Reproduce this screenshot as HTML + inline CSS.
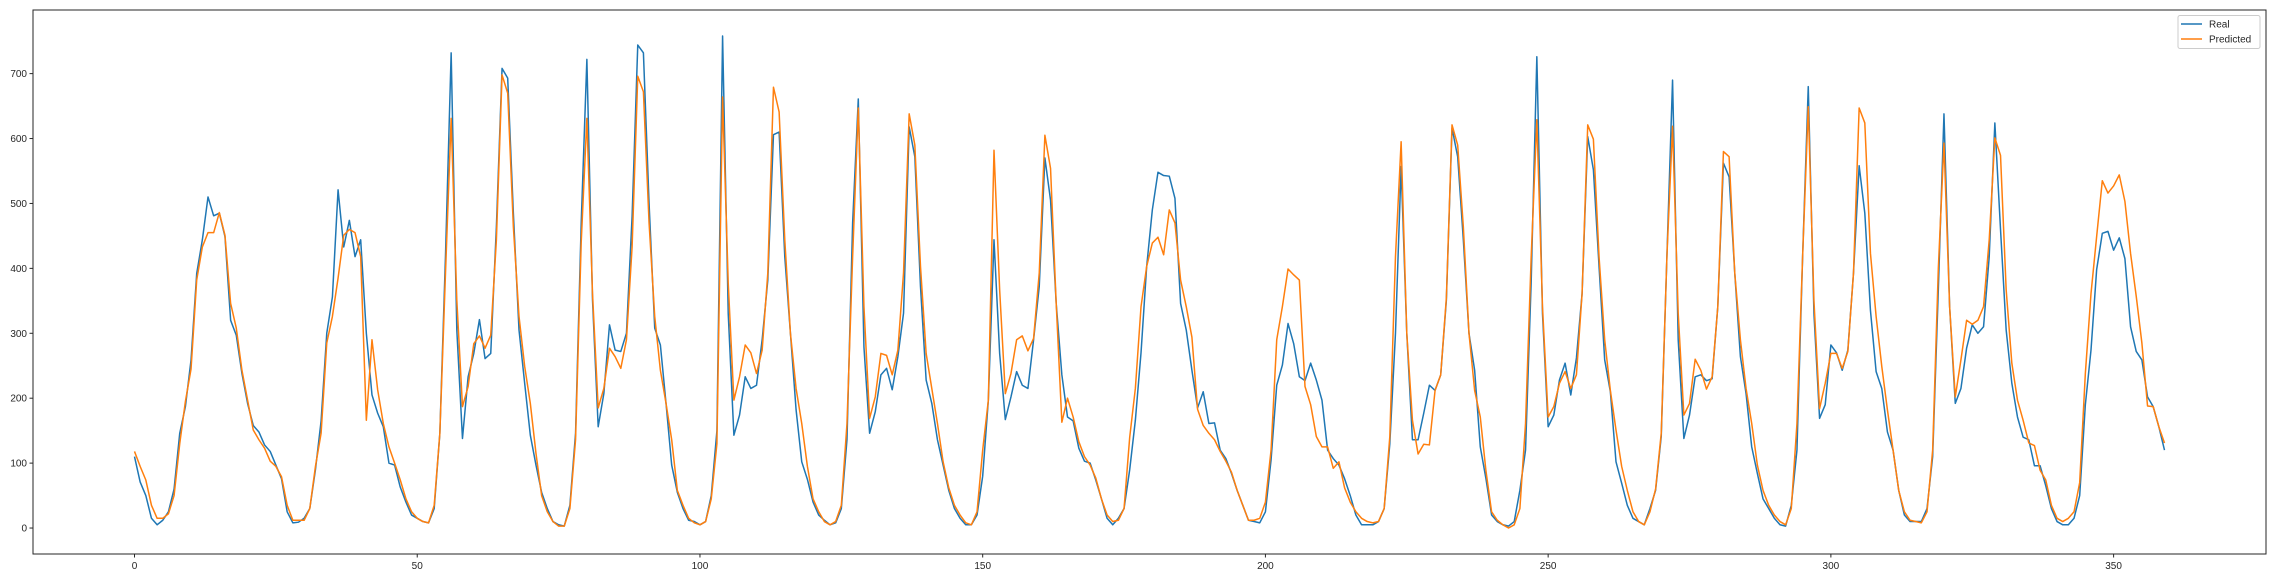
<!DOCTYPE html>
<html><head><meta charset="utf-8">
<style>
html,body{margin:0;padding:0;background:#fff;}
svg{display:block;font-family:"Liberation Sans","DejaVu Sans",sans-serif;}
</style></head>
<body>
<svg id="chart" width="2275" height="578" viewBox="0 0 2275 578" xmlns="http://www.w3.org/2000/svg">
  <rect x="0" y="0" width="2275" height="578" fill="#fff"/>
  <g id="xticks"></g>
  <g id="yticks"></g>
  <g id="series"></g>
  <rect x="33" y="10" width="2233" height="544" fill="none" stroke="#262626" stroke-width="1"/>
  <g>
    <rect x="2178" y="15.5" width="82" height="33" rx="2" fill="#fff" fill-opacity="0.8" stroke="#ccc" stroke-width="1"/>
    <line x1="2181" y1="24" x2="2202" y2="24" stroke="#1f77b4" stroke-width="1.5"/>
    <text x="2209" y="27.5" font-size="10" fill="#262626">Real</text>
    <line x1="2181" y1="39" x2="2202" y2="39" stroke="#ff7f0e" stroke-width="1.5"/>
    <text x="2209" y="42.5" font-size="10" fill="#262626">Predicted</text>
  </g>
</svg>
<script>
const xTickValues = [0, 50, 100, 150, 200, 250, 300, 350];
const yTickValues = [0, 100, 200, 300, 400, 500, 600, 700];
const realValues = [
110,71,50,15,5,12,25,60,146,187,
259,392,444,510,481,485,449,320,297,238,
192,158,148,128,118,97,76,25,8,9,
15,30,90,165,300,356,521,433,474,418,
444,300,205,177,156,100,97,63,40,20,
15,10,8,30,146,420,732,305,138,233,
269,321,261,269,464,708,693,485,305,223,
143,97,55,30,10,5,3,35,146,470,
722,351,156,207,313,274,272,300,480,744,
732,500,308,282,192,97,55,30,12,10,
5,10,50,150,758,330,143,174,233,215,
220,290,382,606,610,418,300,182,102,75,
40,20,12,5,8,30,136,470,661,279,
146,179,236,246,213,264,331,618,572,372,
228,192,136,97,58,30,15,5,5,20,
80,197,444,269,167,202,241,220,215,290,
372,570,505,346,236,171,165,123,103,100,
74,45,15,5,15,30,90,166,270,403,
490,548,543,542,508,346,305,243,185,210,
161,162,120,107,84,58,35,12,10,8,
25,105,220,251,315,284,233,227,254,228,
197,120,107,97,76,50,20,5,5,5,
10,30,130,300,557,300,136,136,177,220,
212,236,351,616,572,444,300,243,125,76,
20,10,5,3,10,58,120,380,726,330,
156,174,228,254,205,262,361,603,552,403,
259,210,102,69,35,15,10,5,30,58,
141,418,690,290,138,174,233,236,227,230,
341,562,541,393,264,207,125,84,45,30,
15,5,3,35,120,418,680,331,169,190,
282,270,243,274,393,558,485,335,241,215,
148,120,58,20,10,10,10,30,110,367,
638,341,192,215,277,313,300,310,418,624,
460,305,223,171,140,136,96,96,65,30,
10,5,5,15,50,190,274,398,454,457,
428,447,415,310,272,259,202,187,156,120
];
const predictedValues = [
118,95,74,35,15,15,22,50,130,195,
245,382,433,455,455,486,451,346,308,243,
197,151,136,123,103,95,79,35,12,12,
12,30,95,146,285,326,385,451,460,455,
418,166,290,213,161,125,100,74,45,25,
15,10,8,35,146,393,631,351,187,218,
284,296,277,297,444,698,670,464,326,249,
192,115,50,25,10,3,3,30,136,440,
631,361,185,215,277,264,246,290,433,696,
672,470,326,243,192,136,58,35,15,8,
5,10,45,130,664,377,197,233,282,270,
238,274,393,679,641,444,300,215,161,95,
45,25,10,5,10,35,161,418,647,341,
169,202,269,266,236,274,393,638,590,403,
269,215,161,102,62,35,20,8,5,25,
120,197,582,367,207,238,290,296,273,292,
393,605,554,346,163,200,171,133,110,97,
77,45,20,10,12,30,140,215,341,403,
439,448,421,490,470,382,341,294,183,158,
146,136,118,103,86,58,35,12,12,15,
40,120,290,341,399,390,382,218,190,141,
125,125,92,102,62,40,25,15,10,8,
10,30,141,418,595,300,166,114,129,128,
212,236,355,621,590,464,300,212,171,88,
25,12,5,0,5,30,161,418,629,341,
171,187,223,241,215,236,361,621,599,418,
290,212,151,95,58,25,10,5,25,60,
146,418,619,331,174,192,260,243,214,233,
341,580,572,393,290,215,161,97,58,35,
20,10,5,30,161,418,649,351,184,223,
269,269,246,272,393,647,624,423,326,249,
182,120,58,25,12,10,8,25,120,400,
593,341,202,259,320,314,320,341,444,601,
574,367,254,197,166,131,127,89,74,35,
15,10,15,25,70,238,361,449,535,516,
527,544,503,423,357,285,188,187,156,131
];

const NS = "http://www.w3.org/2000/svg";
const X0 = 33, X1 = 2266, Y0 = 554, Y1 = 10;
const XMIN = -17.95, XMAX = 376.95, YMIN = -40, YMAX = 798;
function xScale(v){ return X0 + (v - XMIN) / (XMAX - XMIN) * (X1 - X0); }
function yScale(v){ return Y0 - (v - YMIN) / (YMAX - YMIN) * (Y0 - Y1); }

const xg = document.getElementById('xticks');
xTickValues.forEach(function(t){
  const x = xScale(t);
  const ln = document.createElementNS(NS, 'line');
  ln.setAttribute('x1', x); ln.setAttribute('x2', x);
  ln.setAttribute('y1', Y0); ln.setAttribute('y2', Y0 + 3.5);
  ln.setAttribute('stroke', '#262626');
  
  
  xg.appendChild(ln);
  const tx = document.createElementNS(NS, 'text');
  tx.setAttribute('x', x); tx.setAttribute('y', Y0 + 15);
  tx.setAttribute('text-anchor', 'middle');
  tx.setAttribute('font-size', '10');
  tx.setAttribute('fill', '#262626');
  tx.textContent = t;
  
  
  xg.appendChild(tx);
});

const yg = document.getElementById('yticks');
yTickValues.forEach(function(t){
  const y = yScale(t);
  const ln = document.createElementNS(NS, 'line');
  ln.setAttribute('x1', X0 - 3.5); ln.setAttribute('x2', X0);
  ln.setAttribute('y1', y); ln.setAttribute('y2', y);
  ln.setAttribute('stroke', '#262626');
  
  
  yg.appendChild(ln);
  const tx = document.createElementNS(NS, 'text');
  tx.setAttribute('x', X0 - 6); tx.setAttribute('y', y + 3.5);
  tx.setAttribute('text-anchor', 'end');
  tx.setAttribute('font-size', '10');
  tx.setAttribute('fill', '#262626');
  tx.textContent = t;
  
  
  yg.appendChild(tx);
});

function drawSeries(vals, color, name){
  let d = '';
  vals.forEach(function(v, i){
    d += (i === 0 ? 'M' : 'L') + xScale(i).toFixed(2) + ' ' + yScale(v).toFixed(2);
  });
  const p = document.createElementNS(NS, 'path');
  p.setAttribute('d', d);
  p.setAttribute('fill', 'none');
  p.setAttribute('stroke', color);
  p.setAttribute('stroke-width', '1.5');
  p.setAttribute('stroke-linejoin', 'round');
  
  
  document.getElementById('series').appendChild(p);
}
drawSeries(realValues, '#1f77b4', 'real-line');
drawSeries(predictedValues, '#ff7f0e', 'predicted-line');
</script>
</body></html>
